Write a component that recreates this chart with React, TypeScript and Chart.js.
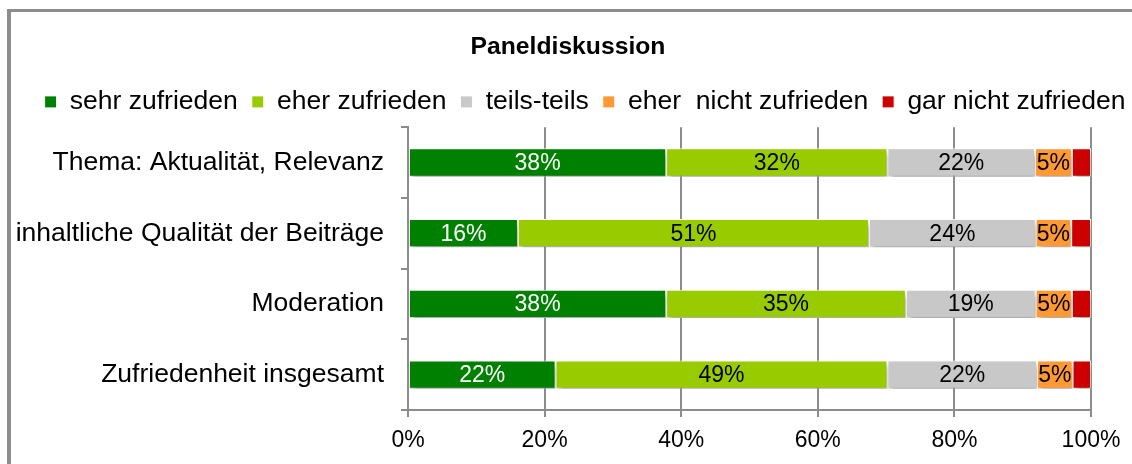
import React, { useEffect, useRef } from "react";
import { Chart, registerables } from "chart.js";

Chart.register(...registerables);

const categories = [
  "Thema: Aktualität, Relevanz",
  "inhaltliche Qualität der Beiträge",
  "Moderation",
  "Zufriedenheit insgesamt",
];
const seriesNames = [
  "sehr zufrieden",
  "eher zufrieden",
  "teils-teils",
  "eher  nicht zufrieden",
  "gar nicht zufrieden",
];
const sehrZufrieden = [37.8, 16.1, 37.8, 21.6];
const eherZufrieden = [32.4, 51.4, 35.1, 48.6];
const teilsTeils = [21.6, 24.4, 19.0, 21.9];
const eherNichtZufrieden = [5.4, 5.2, 5.3, 5.2];
const garNichtZufrieden = [2.8, 2.9, 2.8, 2.7];
const xTicks = [0, 20, 40, 60, 80, 100];

const seriesValues = [sehrZufrieden, eherZufrieden, teilsTeils, eherNichtZufrieden, garNichtZufrieden];
const colors = ["#008000", "#99CC00", "#C8C8C8", "#FF9933", "#CC0000"];
const labelColors = ["#ffffff", "#000000", "#000000", "#000000", "#000000"];
const FONT = "'Liberation Sans', Arial, sans-serif";

const shadowPlugin = {
  id: "barShadow",
  beforeDatasetDraw(chart: any) {
    const ctx = chart.ctx;
    ctx.save();
    ctx.shadowColor = "rgba(0,0,0,0.35)";
    ctx.shadowBlur = 6;
    ctx.shadowOffsetX = 2;
    ctx.shadowOffsetY = 5;
  },
  afterDatasetDraw(chart: any) {
    chart.ctx.restore();
  },
};

const labelPlugin = {
  id: "segLabels",
  afterDatasetsDraw(chart: any) {
    const ctx = chart.ctx;
    ctx.save();
    ctx.font = `23px ${FONT}`;
    ctx.textAlign = "center";
    ctx.textBaseline = "middle";
    chart.data.datasets.forEach((ds: any, di: number) => {
      const meta = chart.getDatasetMeta(di);
      meta.data.forEach((bar: any, i: number) => {
        const v = ds.data[i];
        if (v < 4) return;
        const p = bar.getProps(["x", "y", "base"], true);
        ctx.fillStyle = labelColors[di];
        ctx.fillText(Math.round(v) + "%", (p.x + p.base) / 2, p.y + 1);
      });
    });
    ctx.restore();
  },
};

const shiftLegendPlugin = {
  id: "shiftLegend",
  afterInit(chart: any) {
    const lg = chart.legend;
    if (lg && !lg.__patched) {
      const orig = lg.fit.bind(lg);
      lg.fit = () => {
        orig();
        lg.height += 2;
      };
      lg.__patched = true;
    }
  },
  afterLayout(chart: any) {
    const lg = chart.legend;
    if (lg) {
      lg.left += 19;
      lg.right += 19;
    }
    const t = chart.titleBlock;
    if (t) {
      t.left += 2;
      t.right += 2;
    }
  },
};

export default function App() {
  const ref = useRef<HTMLCanvasElement | null>(null);
  useEffect(() => {
    if (!ref.current) return;
    const chart = new Chart(ref.current, {
      type: "bar",
      data: {
        labels: categories,
        datasets: seriesNames.map((name, i) => ({
          label: name,
          data: seriesValues[i],
          backgroundColor: colors[i],
          borderColor: "#ffffff",
          borderWidth: 1,
          borderSkipped: false,
          categoryPercentage: 1,
          barPercentage: 0.4,
        })),
      },
      options: {
        indexAxis: "y",
        animation: false,
        responsive: false,
        devicePixelRatio: 1,
        layout: { padding: { left: 4, right: 4, top: 32, bottom: 0 } },
        plugins: {
          title: {
            display: true,
            text: "Paneldiskussion",
            color: "#000",
            font: { family: FONT, size: 24.7, weight: "bold" },
            padding: { top: 0, bottom: 13 },
          },
          legend: {
            display: true,
            position: "top",
            labels: {
              color: "#000",
              font: { family: FONT, size: 26.5 },
              boxWidth: 12,
              boxHeight: 12,
              padding: 14,
            },
          },
          tooltip: { enabled: false },
        },
        scales: {
          x: {
            stacked: true,
            min: 0,
            max: 100,
            afterBuildTicks: (scale: any) => {
              scale.ticks = xTicks.map((v) => ({ value: v }));
            },
            afterFit: (scale: any) => {
              scale.paddingRight = 41;
              scale.paddingLeft = 0;
              scale.height = 54;
            },
            ticks: {
              color: "#000",
              font: { family: FONT, size: 23 },
              padding: 10,
              callback: (v: any) => v + "%",
            },
            grid: { color: "#8c8c8c", lineWidth: 2, tickLength: 7, drawOnChartArea: true },
            border: { color: "#8c8c8c", width: 2 },
          },
          y: {
            stacked: true,
            offset: true,
            ticks: {
              color: "#000",
              font: { family: FONT, size: 26.5 },
              padding: 17,
            },
            grid: { offset: true, drawOnChartArea: false, color: "#8c8c8c", lineWidth: 2, tickLength: 7 },
            border: { color: "#8c8c8c", width: 2 },
            afterFit: (scale: any) => {
              scale.width = 408 - 4;
            },
          },
        },
      },
      plugins: [shadowPlugin, labelPlugin, shiftLegendPlugin],
    } as any);
    return () => chart.destroy();
  }, []);

  return (
    <div style={{ position: "absolute", left: 0, top: 0, width: 1132, height: 464, background: "#fff", overflow: "hidden" }}>
      <canvas ref={ref} width={1132} height={464} style={{ position: "absolute", left: 0, top: 0 }} />
      <div
        style={{
          position: "absolute",
          left: 7,
          top: 9,
          width: 1200,
          height: 500,
          borderLeft: "4px solid #8c8c8c",
          borderTop: "3px solid #8c8c8c",
          pointerEvents: "none",
        }}
      />
    </div>
  );
}
